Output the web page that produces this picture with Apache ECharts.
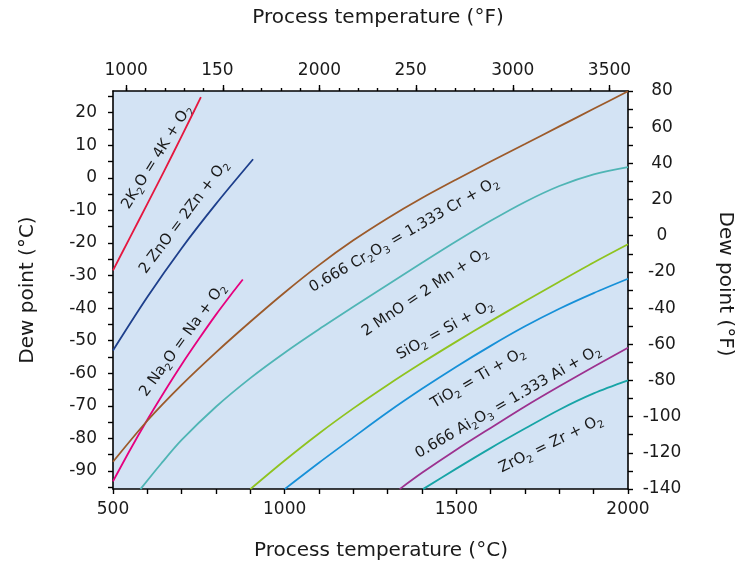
<!DOCTYPE html>
<html>
<head>
<meta charset="utf-8">
<script src="https://cdn.jsdelivr.net/npm/echarts@6/dist/echarts.min.js"></script>
<style>
  html, body { margin: 0; padding: 0; background: #fff; }
  #main { width: 750px; height: 564px; }
</style>
</head>
<body>
<div id="main"></div>
<script>
// process temperature (°C) and dew point (°C)
const tempK2O = [500, 550, 600, 650, 700, 756]
const dewK2O = [-28.4, -18.2, -8.0, 2.3, 12.8, 24.8]

const tempZnO = [500, 600, 700, 800, 908]
const dewZnO = [-53.0, -36.6, -21.6, -8.0, 5.7]

const tempNa2O = [500, 550, 600, 650, 700, 750, 800, 850, 878]
const dewNa2O = [-93.2, -83.5, -74.3, -65.6, -57.3, -49.5, -42.0, -35.0, -31.2]

const tempCr2O3 = [500, 600, 700, 800, 900, 1000, 1100, 1200, 1300, 1400, 1500, 1600, 1700, 1800, 1900, 2000]
const dewCr2O3 = [-87.2, -74.6, -63.6, -53.6, -44.2, -35.2, -26.8, -19.2, -12.4, -6.2, -0.5, 5.0, 10.4, 15.8, 21.2, 26.6]

const tempMnO = [580, 640, 700, 800, 900, 1000, 1100, 1200, 1300, 1400, 1500, 1600, 1700, 1800, 1900, 2000]
const dewMnO = [-95.6, -87.8, -80.5, -70.3, -61.5, -53.7, -46.5, -39.6, -32.8, -26.1, -19.5, -13.2, -7.4, -2.5, 1.1, 3.3]

const tempSiO2 = [900, 1000, 1100, 1200, 1300, 1400, 1500, 1600, 1700, 1800, 1900, 2000]
const dewSiO2 = [-95.6, -86.8, -78.5, -70.8, -63.6, -56.8, -50.3, -44.0, -37.9, -31.9, -26.0, -20.4]

const tempTiO2 = [1000, 1100, 1200, 1300, 1400, 1500, 1600, 1700, 1800, 1900, 2000]
const dewTiO2 = [-95.6, -87.5, -79.7, -72.0, -64.8, -58.0, -51.6, -45.6, -40.2, -35.4, -31.0]

const tempAl2O3 = [1335, 1400, 1500, 1600, 1700, 1800, 1900, 2000]
const dewAl2O3 = [-95.6, -90.6, -83.5, -76.8, -70.2, -64.0, -58.0, -52.2]

const tempZrO2 = [1403, 1500, 1600, 1700, 1800, 1900, 2000]
const dewZrO2 = [-95.6, -89.3, -83.0, -77.0, -71.2, -66.2, -62.2]

// axis ticks and labels
const celsiusTicks = [500, 600, 700, 800, 900, 1000, 1100, 1200, 1300, 1400, 1500, 1600, 1700, 1800, 1900, 2000]
const celsiusLabels = [500, 1000, 1500, 2000]
const fahrTicks = [1000, 1100, 1200, 1300, 1400, 1500, 1600, 1700, 1800, 1900, 2000, 2100, 2200, 2300, 2400, 2500, 2600, 2700, 2800, 2900, 3000, 3100, 3200, 3300, 3400, 3500]
const fahrLabels = [1000, 1500, 2000, 2500, 3000, 3500]
const dewCTicks = [-95, -90, -85, -80, -75, -70, -65, -60, -55, -50, -45, -40, -35, -30, -25, -20, -15, -10, -5, 0, 5, 10, 15, 20, 25]
const dewCLabels = [-90, -80, -70, -60, -50, -40, -30, -20, -10, 0, 10, 20]
const dewFTicks = [-140, -130, -120, -110, -100, -90, -80, -70, -60, -50, -40, -30, -20, -10, 0, 10, 20, 30, 40, 50, 60, 70, 80]
const dewFLabels = [-140, -120, -100, -80, -60, -40, -20, 0, 20, 40, 60, 80]

const FONT = 'DejaVu Sans'
const INK = '#1a1a1a'

const pairs = (xs, ys) => xs.map((x, i) => [x, ys[i]])

const curve = (name, xs, ys, color) => ({
  name,
  type: 'line',
  data: pairs(xs, ys),
  smooth: 0.3,
  showSymbol: false,
  silent: true,
  clip: true,
  lineStyle: { color, width: 1.8 }
})

const axisLineStyle = { show: true, onZero: false, lineStyle: { color: '#000', width: 1.6 } }
const tickLine = { color: '#000', width: 1.4 }
const plain = v => String(v)

// rotated reaction labels
const rich = {
  s: { fontSize: 10, fontFamily: FONT, fill: INK, verticalAlign: 'bottom', lineHeight: 12 }
}
const reaction = (text, x, y, deg) => ({
  type: 'text',
  x, y,
  rotation: deg * Math.PI / 180,
  silent: true,
  style: {
    text,
    rich,
    fill: INK,
    fontSize: 15,
    fontFamily: FONT,
    lineHeight: 20,
    align: 'center',
    verticalAlign: 'middle'
  }
})

const title = (text, x, y, deg) => ({
  type: 'text',
  x, y,
  rotation: deg * Math.PI / 180,
  silent: true,
  style: { text, fill: INK, fontSize: 20, fontFamily: FONT, align: 'center', verticalAlign: 'middle' }
})

const chart = echarts.init(document.getElementById('main'))

const option = {
  animation: false,
  grid: {
    left: 113, right: 122, top: 91, bottom: 75,
    show: true, backgroundColor: '#d3e3f4', borderWidth: 0
  },
  xAxis: [
    {
      type: 'value', position: 'bottom', min: 500, max: 2000,
      axisLine: axisLineStyle,
      splitLine: { show: false },
      axisTick: { show: true, length: 5, customValues: celsiusTicks, lineStyle: tickLine },
      axisLabel: { customValues: celsiusLabels, formatter: plain, margin: 12, fontSize: 17, fontFamily: FONT, color: INK }
    },
    {
      type: 'value', position: 'top', min: 932, max: 3596,
      axisLine: axisLineStyle,
      splitLine: { show: false },
      axisTick: { show: true, length: 6, customValues: fahrLabels, lineStyle: tickLine },
      axisLabel: {
        customValues: fahrLabels, margin: 12, fontSize: 17, fontFamily: FONT, color: INK,
        // the reference clips the last digit of 1500 and 2500
        formatter: v => (v === 1500 || v === 2500) ? String(v).slice(0, 3) + '{h|0}' : String(v),
        rich: { h: { fontSize: 17, fontFamily: FONT, color: 'rgba(0,0,0,0)' } }
      }
    },
    {
      type: 'value', position: 'top', min: 932, max: 3596,
      axisLine: { show: false, onZero: false },
      splitLine: { show: false },
      axisTick: { show: true, length: 3, customValues: fahrTicks, lineStyle: tickLine },
      axisLabel: { show: false }
    }
  ],
  yAxis: [
    {
      type: 'value', position: 'left', min: -95.56, max: 26.67,
      axisLine: axisLineStyle,
      splitLine: { show: false },
      axisTick: { show: true, length: 5, customValues: dewCTicks, lineStyle: tickLine },
      axisLabel: { customValues: dewCLabels, formatter: plain, margin: 16, fontSize: 17, fontFamily: FONT, color: INK }
    },
    {
      type: 'value', position: 'right', min: -140, max: 80,
      axisLine: axisLineStyle,
      splitLine: { show: false },
      axisTick: { show: true, length: 5, customValues: dewFTicks, lineStyle: tickLine },
      axisLabel: { customValues: dewFLabels, formatter: plain, margin: 34, align: 'center', fontSize: 17, fontFamily: FONT, color: INK }
    }
  ],
  series: [
    curve('K2O', tempK2O, dewK2O, '#e5173f'),
    curve('ZnO', tempZnO, dewZnO, '#1d3f8c'),
    curve('Na2O', tempNa2O, dewNa2O, '#e6007e'),
    curve('Cr2O3', tempCr2O3, dewCr2O3, '#9c5a2a'),
    curve('MnO', tempMnO, dewMnO, '#4fb5b5'),
    curve('SiO2', tempSiO2, dewSiO2, '#8fc31f'),
    curve('TiO2', tempTiO2, dewTiO2, '#1690d8'),
    curve('Al2O3', tempAl2O3, dewAl2O3, '#9c318f'),
    curve('ZrO2', tempZrO2, dewZrO2, '#17a4a6')
  ],
  graphic: [
    title('Process temperature (°F)', 378, 18, 0),
    title('Process temperature (°C)', 381, 551, 0),
    title('Dew point (°C)', 28, 290, 90),
    title('Dew point (°F)', 725, 284, -90),
    reaction('2K{s|2}O = 4K + O{s|2}', 157, 157, 58),
    reaction('2 ZnO = 2Zn + O{s|2}', 184, 217, 53),
    reaction('2 Na{s|2}O = Na + O{s|2}', 183, 340, 54),
    reaction('0.666 Cr{s|2}O{s|3} = 1.333 Cr + O{s|2}', 404, 235, 30),
    reaction('2 MnO = 2 Mn + O{s|2}', 425, 292, 33.7),
    reaction('SiO{s|2} = Si + O{s|2}', 445, 330, 29),
    reaction('TiO{s|2} = Ti + O{s|2}', 478, 378, 30.4),
    reaction('0.666 Ai{s|2}O{s|3} = 1.333 Ai + O{s|2}', 508, 402, 30),
    reaction('ZrO{s|2} = Zr + O{s|2}', 551, 444, 26.2)
  ]
}

chart.setOption(option)
</script>
</body>
</html>
